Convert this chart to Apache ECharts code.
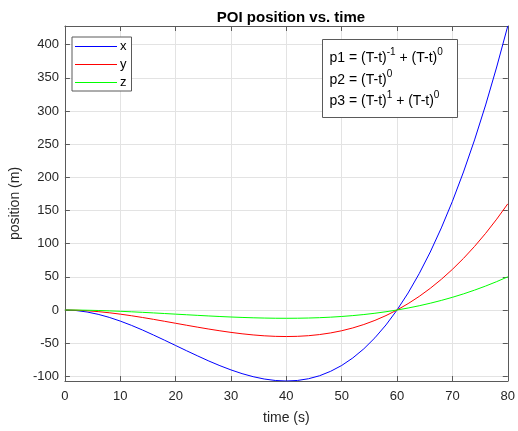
<!DOCTYPE html>
<html>
<head>
<meta charset="utf-8">
<script src="https://cdn.jsdelivr.net/npm/echarts@6/dist/echarts.min.js"></script>
<style>
  html, body { margin: 0; padding: 0; background: #fff; }
  #chart { width: 518px; height: 431px; }
</style>
</head>
<body>
<div id="chart"></div>
<script>
// Sample times (s)
const times = [0, 2, 4, 6, 8, 10, 12, 14, 16, 18, 20, 22, 24, 26, 28, 30, 32, 34, 36, 38, 40,
               42, 44, 46, 48, 50, 52, 54, 56, 58, 60, 62, 64, 66, 68, 70, 72, 74, 76, 78, 80];

// POI position components (m)
const posX = [0, -0.78, -3.0, -6.5, -11.1, -16.7, -23.1, -30.1, -37.7, -45.5, -53.5, -61.5, -69.3, -76.9, -83.9, -90.3, -95.9, -100.5, -104.0, -106.2, -107.0,
              -106.2, -103.6, -99.1, -92.4, -83.6, -72.3, -58.5, -41.9, -22.5, 0, 25.7, 54.8, 87.4, 123.7, 163.8, 208.0, 256.3, 309.0, 366.2, 428.0];
const posY = [0, -0.29, -1.12, -2.43, -4.16, -6.25, -8.64, -11.27, -14.08, -17.01, -20.0, -22.99, -25.92, -28.73, -31.36, -33.75, -35.84, -37.57, -38.88, -39.71, -40.0,
              -39.69, -38.72, -37.03, -34.56, -31.25, -27.04, -21.87, -15.68, -8.41, 0, 9.61, 20.48, 32.67, 46.24, 61.25, 77.76, 95.83, 115.52, 136.89, 160.0];
const posZ = [0, -0.09, -0.35, -0.76, -1.30, -1.95, -2.70, -3.52, -4.40, -5.32, -6.25, -7.18, -8.10, -8.98, -9.80, -10.55, -11.20, -11.74, -12.15, -12.41, -12.5,
              -12.40, -12.10, -11.57, -10.80, -9.77, -8.45, -6.83, -4.90, -2.63, 0, 3.00, 6.40, 10.21, 14.45, 19.14, 24.30, 29.95, 36.10, 42.78, 50.0];

const seriesNames = ['x', 'y', 'z'];
const seriesColors = ['#0000ff', '#ff0000', '#00ff00'];

const FONT = 'Liberation Sans, Arial, sans-serif';
const TEXT_COLOR = '#262626';
const AXIS_COLOR = '#5a5a5a';
const GRID_COLOR = '#e3e3e3';

const chart = echarts.init(document.getElementById('chart'), null, { renderer: 'canvas' });

function pairs(ys) { return times.map((t, i) => [t, ys[i]]); }

const baseAxis = {
  axisLine: { show: true, onZero: false, lineStyle: { color: AXIS_COLOR, width: 1 } },
  axisTick: { show: true, inside: true, length: 5, lineStyle: { color: AXIS_COLOR } },
  axisLabel: { color: TEXT_COLOR, fontFamily: FONT, fontSize: 13, showMinLabel: false, showMaxLabel: false },
  splitLine: { show: true, lineStyle: { color: GRID_COLOR, width: 1 } }
};

const option = {
  backgroundColor: '#ffffff',
  animation: false,
  title: {
    text: 'POI position vs. time',
    left: 286, top: 5, textAlign: 'center',
    textStyle: { fontFamily: FONT, fontSize: 15, fontWeight: 'bold', color: '#000' }
  },
  grid: { left: 61, right: 8, top: 26, bottom: 50, containLabel: false },
  legend: {
    data: seriesNames.map(n => ({ name: n, icon: 'rect' })),
    orient: 'vertical',
    left: 72, top: 37,
    itemWidth: 42, itemHeight: 1, itemGap: 5,
    padding: [3, 5, 2, 3],
    borderColor: AXIS_COLOR, borderWidth: 1,
    backgroundColor: '#fff',
    textStyle: { fontFamily: FONT, fontSize: 13, color: '#000', padding: [0, 0, 0, -2] }
  },
  xAxis: [
    Object.assign({}, baseAxis, {
      type: 'value', min: 0, max: 80, splitNumber: 8, position: 'bottom',
      name: 'time (s)', nameLocation: 'middle', nameGap: 30,
      nameTextStyle: { fontFamily: FONT, fontSize: 14, color: TEXT_COLOR },
      axisLabel: Object.assign({}, baseAxis.axisLabel, { showMinLabel: true, showMaxLabel: true, margin: 9 })
    }),
    Object.assign({}, baseAxis, {
      type: 'value', min: 0, max: 80, splitNumber: 8, position: 'top',
      axisLabel: { show: false }, splitLine: { show: false }
    })
  ],
  yAxis: [
    Object.assign({}, baseAxis, {
      type: 'value', min: 'dataMin', max: 'dataMax', splitNumber: 10, position: 'left',
      name: 'position (m)', nameLocation: 'middle', nameGap: 38,
      nameTextStyle: { fontFamily: FONT, fontSize: 14, color: TEXT_COLOR },
      axisLabel: Object.assign({}, baseAxis.axisLabel, { margin: 6 })
    }),
    Object.assign({}, baseAxis, {
      type: 'value', min: 'dataMin', max: 'dataMax', splitNumber: 10, position: 'right',
      axisLabel: { show: false }, splitLine: { show: false }
    })
  ],
  series: [posX, posY, posZ].map((d, i) => ({
    name: seriesNames[i],
    type: 'line',
    data: pairs(d),
    xAxisIndex: 0, yAxisIndex: 0,
    showSymbol: false, symbol: 'none',
    smooth: false,
    lineStyle: { color: seriesColors[i], width: 1 },
    itemStyle: { color: seriesColors[i] }
  })).concat([{
    // keeps the right axis on the same extent as the left one
    type: 'line', yAxisIndex: 1, data: pairs(posX), symbol: 'none',
    lineStyle: { opacity: 0 }, silent: true, legendHoverLink: false, tooltip: { show: false }
  }]),
  graphic: [{
    type: 'group', left: 322, top: 39, z: 100,
    children: [
      { type: 'rect', z: 100, shape: { x: 0, y: 0, width: 135, height: 78 },
        style: { fill: '#fff', stroke: AXIS_COLOR, lineWidth: 1 } },
      { type: 'text', z: 101, left: 7, top: 8,
        style: {
          text: 'p1 = (T-t){s|-1} + (T-t){s|0}\np2 = (T-t){s|0}\np3 = (T-t){s|1} + (T-t){s|0}',
          fontFamily: FONT, fontSize: 14, fill: '#000', lineHeight: 21.5,
          rich: { s: { fontFamily: FONT, fontSize: 10, verticalAlign: 'top', lineHeight: 21.5, fill: '#000', padding: [0, 0, 5, 0] } }
        } }
    ]
  }]
};

chart.setOption(option);
</script>
</body>
</html>
